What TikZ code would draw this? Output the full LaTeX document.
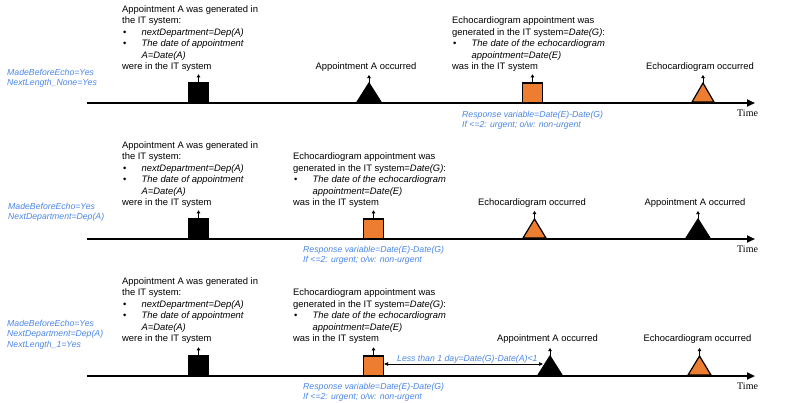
\documentclass[tikz,border=0pt]{standalone}
\usepackage{fontspec}
\setmainfont{Liberation Sans}
\newfontfamily\timesf{Liberation Serif}
\usetikzlibrary{arrows.meta}
\definecolor{bl}{RGB}{74,134,232}
\definecolor{og}{RGB}{237,125,49}
\newcommand{\bul}{\makebox[19.5pt][l]{\hspace{1pt}•}}
\newcommand{\ind}{\hspace*{19.5pt}}
\newcommand{\blockA}{\begin{tabular}[b]{@{}l@{}}Appointment A was generated in\\the IT system:\\\bul\textit{nextDepartment=Dep(A)}\\\bul\textit{The date of appointment}\\\ind\textit{A=Date(A)}\\were in the IT system\end{tabular}}
\newcommand{\blockE}{\begin{tabular}[b]{@{}l@{}}Echocardiogram appointment was\\generated in the IT system=\textit{Date(G)}:\\\bul\textit{The date of the echocardiogram}\\\ind\textit{appointment=Date(E)}\\was in the IT system\end{tabular}}
\begin{document}
\begin{tikzpicture}[x=1pt,y=-1pt,
  txt/.style={inner sep=0pt, anchor=base west, font=\fontsize{9.4}{11.4}\selectfont},
  occ/.style={inner sep=0pt, anchor=base, font=\fontsize{9.4}{11.4}\selectfont},
  note/.style={inner sep=0pt, anchor=base west, text=bl, font=\fontsize{8.7}{10.5}\selectfont\itshape},
  timel/.style={inner sep=0pt, anchor=base west, font=\fontsize{10}{12}\timesf},
  axisline/.style={line width=2pt, -{Triangle[length=8pt,width=7pt]}},
  up/.style={line width=0.7pt, -{Triangle[length=3pt,width=3.5pt]}},
  dbl/.style={line width=0.6pt, {Triangle[length=4pt,width=3.5pt]}-{Triangle[length=4pt,width=3.5pt]}},
  sqb/.style={draw=black, fill=black, line width=1.2pt, minimum width=20pt, minimum height=19.5pt, inner sep=0pt, anchor=south},
  sqo/.style={sqb, fill=og},
  trib/.style={draw=black, fill=black, line width=1.2pt, line join=miter},
  trio/.style={trib, fill=og}
]
\useasboundingbox (0,0) rectangle (786,402);

% ---------------- Panel 1 ----------------
\coordinate (s1) at (87,103);
\coordinate (e1) at (755,103);
\draw[axisline] (s1) -- (e1);
\node[timel] (time1) at (737,116.5) {Time};
\node[sqb] (b1) at (198.5,103) {};
\node[sqo] (o1) at (532.5,103) {};
\filldraw[trib] (357,102) -- (369,83) coordinate (ta1) -- (381,102) -- cycle;
\filldraw[trio] (692,102) -- (703,83) coordinate (te1) -- (714,102) -- cycle;
\coordinate (ta1u) at (369,75);
\coordinate (te1u) at (703,75);
\draw[up] (b1.north) -- ++(0,-8);
\draw[up] (o1.north) -- ++(0,-8);
\draw[up] (ta1) -- (ta1u);
\draw[up] (te1) -- (te1u);
\node[txt] (ga1) at (122,69.5) {\blockA};
\node[txt] (ge1) at (452,69.5) {\blockE};
\node[occ] (oa1) at (366,69.5) {Appointment A occurred};
\node[occ] (oe1) at (700,69.5) {Echocardiogram occurred};
\node[note] (n1a) at (7,75) {MadeBeforeEcho=Yes};
\node[note] (n1b) at (7,85.5) {NextLength\_None=Yes};
\node[note] (r1a) at (462,117) {Response variable=Date(E)-Date(G)};
\node[note] (r1b) at (462,127.5) {If <=2: urgent; o/w: non-urgent};

% ---------------- Panel 2 ----------------
\coordinate (s2) at (87,239);
\coordinate (e2) at (755,239);
\draw[axisline] (s2) -- (e2);
\node[timel] (time2) at (737,252.5) {Time};
\node[sqb] (b2) at (198.5,239) {};
\node[sqo] (o2) at (373.5,239) {};
\filldraw[trio] (523,238) -- (534.5,219) coordinate (te2) -- (546,238) -- cycle;
\filldraw[trib] (686,238) -- (698,219) coordinate (ta2) -- (710,238) -- cycle;
\coordinate (te2u) at (534.5,211);
\coordinate (ta2u) at (698,211);
\draw[up] (b2.north) -- ++(0,-8);
\draw[up] (o2.north) -- ++(0,-8);
\draw[up] (te2) -- (te2u);
\draw[up] (ta2) -- (ta2u);
\node[txt] (ga2) at (122,205.5) {\blockA};
\node[txt] (ge2) at (293,205.5) {\blockE};
\node[occ] (oe2) at (532,205.5) {Echocardiogram occurred};
\node[occ] (oa2) at (695,205.5) {Appointment A occurred};
\node[note] (n2a) at (8,209) {MadeBeforeEcho=Yes};
\node[note] (n2b) at (8,219.5) {NextDepartment=Dep(A)};
\node[note] (r2a) at (303,252) {Response variable=Date(E)-Date(G)};
\node[note] (r2b) at (303,262.5) {If <=2: urgent; o/w: non-urgent};

% ---------------- Panel 3 ----------------
\coordinate (s3) at (87,376);
\coordinate (e3) at (755,376);
\draw[axisline] (s3) -- (e3);
\node[timel] (time3) at (737,389.5) {Time};
\node[sqb] (b3) at (198.5,376) {};
\node[sqo] (o3) at (373.5,376) {};
\filldraw[trib] (538,375) -- (550,356) coordinate (ta3) -- (562,375) -- cycle;
\filldraw[trio] (688,375) -- (699.5,356) coordinate (te3) -- (711,375) -- cycle;
\coordinate (ta3u) at (550,348);
\coordinate (te3u) at (699.5,348);
\coordinate (ta3l) at (543,364);
\draw[up] (b3.north) -- ++(0,-8);
\draw[up] (o3.north) -- ++(0,-8);
\draw[up] (ta3) -- (ta3u);
\draw[up] (te3) -- (te3u);
\draw[dbl] (o3.east |- ta3l) -- (ta3l);
\node[note] (lt3) at (397,361.5) {Less than 1 day=Date(G)-Date(A)<1};
\node[txt] (ga3) at (122,341.5) {\blockA};
\node[txt] (ge3) at (293,341.5) {\blockE};
\node[occ] (oa3) at (547.5,341.5) {Appointment A occurred};
\node[occ] (oe3) at (697.5,341.5) {Echocardiogram occurred};
\node[note] (n3a) at (7,326) {MadeBeforeEcho=Yes};
\node[note] (n3b) at (7,336.5) {NextDepartment=Dep(A)};
\node[note] (n3c) at (7,347) {NextLength\_1=Yes};
\node[note] (r3a) at (303,389) {Response variable=Date(E)-Date(G)};
\node[note] (r3b) at (303,399.5) {If <=2: urgent; o/w: non-urgent};
\end{tikzpicture}
\end{document}
